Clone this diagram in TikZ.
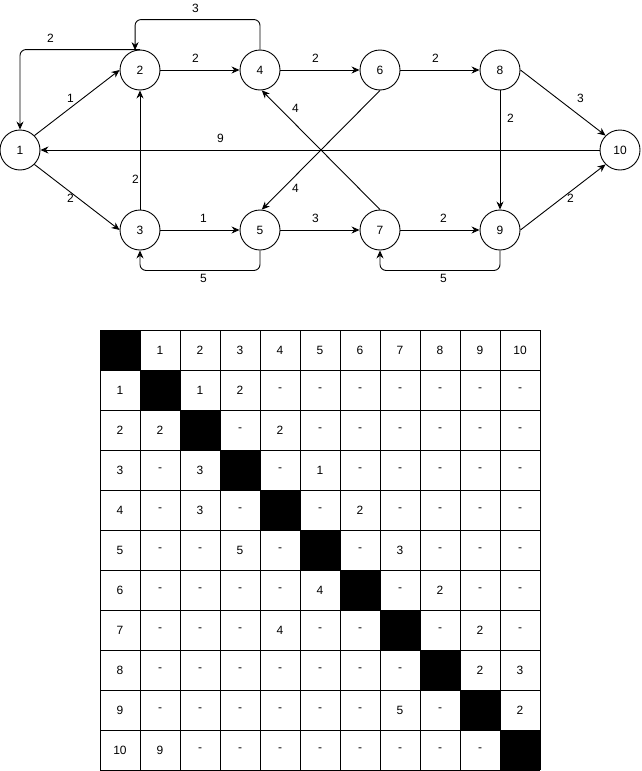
\documentclass[tikz,border=0pt]{standalone}
\usepackage{fontspec}
\setmainfont{Liberation Sans}
\usetikzlibrary{arrows.meta}

\begin{document}
\begin{tikzpicture}[x=1pt, y=-1pt,
  every node/.style={font=\fontsize{12}{14}\selectfont},
  vertex/.style={draw, circle, minimum size=40pt, inner sep=0pt, line width=0.9pt},
  arr/.style={line width=0.9pt, -{Stealth[length=8pt, width=7pt]}},
  elbow/.style={arr, rounded corners=6pt},
  weight/.style={inner sep=1pt, anchor=north west},
  cell/.style={inner sep=0pt}]
\useasboundingbox (0,0) rectangle (641,771);
% graph
\node[vertex] (G1N1) at (20,150) {1};
\node[vertex] (G1N2) at (140,70) {2};
\node[vertex] (G1N3) at (140,230) {3};
\node[vertex] (G1N4) at (260,70) {4};
\node[vertex] (G1N5) at (260,230) {5};
\node[vertex] (G1N6) at (380,70) {6};
\node[vertex] (G1N7) at (380,230) {7};
\node[vertex] (G1N8) at (500,70) {8};
\node[vertex] (G1N9) at (500,230) {9};
\node[vertex] (G1N10) at (620,150) {10};
\draw[arr] (G1N1.45) -- (G1N2.west);
\draw[arr] (G1N1.-45) -- (G1N3.west);
\draw[arr] (G1N2) -- (G1N4);
\draw[arr] (G1N3) -- (G1N2);
\draw[arr] (G1N3) -- (G1N5);
\draw[arr] (G1N4) -- (G1N6);
\draw[arr] (G1N5) -- (G1N7);
\draw[arr] (G1N6.south) -- (G1N5.85);
\draw[arr] (G1N7.north) -- (G1N4.275);
\draw[arr] (G1N6) -- (G1N8);
\draw[arr] (G1N7) -- (G1N9);
\draw[arr] (G1N8) -- (G1N9);
\draw[arr] (G1N8.east) -- (G1N10.135);
\draw[arr] (G1N9.east) -- (G1N10.225);
\draw[arr] (G1N10) -- (G1N1);
\draw[elbow] (G1N2.north) -| (G1N1.north);
\draw[elbow] (G1N4.north) -- ++(0,-30) -| (G1N2.104);
\draw[elbow] (G1N5.south) -- ++(0,20) -| (G1N3.south);
\draw[elbow] (G1N9.south) -- ++(0,20) -| (G1N7.south);
% weights
\node[weight] (W21) at (46,33) {2};
\node[weight] (W42) at (191,3) {3};
\node[weight] (W12) at (66,93) {1};
\node[weight] (W24) at (191,53) {2};
\node[weight] (W46) at (311,53) {2};
\node[weight] (W68) at (431,53) {2};
\node[weight] (W74) at (291,103) {4};
\node[weight] (W101) at (216,133) {9};
\node[weight] (W810) at (576,93) {3};
\node[weight] (W89) at (506,113) {2};
\node[weight] (W32) at (131,174) {2};
\node[weight] (W13) at (66,193) {2};
\node[weight] (W65) at (291,183) {4};
\node[weight] (W910) at (566,193) {2};
\node[weight] (W35) at (199,213) {1};
\node[weight] (W57) at (311,213) {3};
\node[weight] (W79) at (439,213) {2};
\node[weight] (W53) at (199,273) {5};
\node[weight] (W97) at (439,273) {5};
% table
\foreach \i in {0,...,10}
  \fill (100+40*\i,330+40*\i) rectangle ++(40,40);
\foreach \i in {0,...,11} {
  \draw[line width=0.9pt] (100+40*\i,330) -- (100+40*\i,770);
  \draw[line width=0.9pt] (100,330+40*\i) -- (540,330+40*\i);
}
\foreach \c in {1,...,10}
  \node[cell] (T0-\c) at (120+40*\c,350) {\c};
\foreach \r/\row in {1/{X,1,2,-,-,-,-,-,-,-}, 2/{2,X,-,2,-,-,-,-,-,-},
    3/{-,3,X,-,1,-,-,-,-,-}, 4/{-,3,-,X,-,2,-,-,-,-},
    5/{-,-,5,-,X,-,3,-,-,-}, 6/{-,-,-,-,4,X,-,2,-,-},
    7/{-,-,-,4,-,-,X,-,2,-}, 8/{-,-,-,-,-,-,-,X,2,3},
    9/{-,-,-,-,-,-,5,-,X,2}, 10/{9,-,-,-,-,-,-,-,-,X}} {
  \node[cell] (T\r-0) at (120,350+40*\r) {\r};
  \foreach \v [count=\c] in \row {
    \ifnum\c=\r\relax\else
      \node[cell] (T\r-\c) at (120+40*\c,350+40*\r) {\v};
    \fi
  }
}
\end{tikzpicture}
\end{document}
